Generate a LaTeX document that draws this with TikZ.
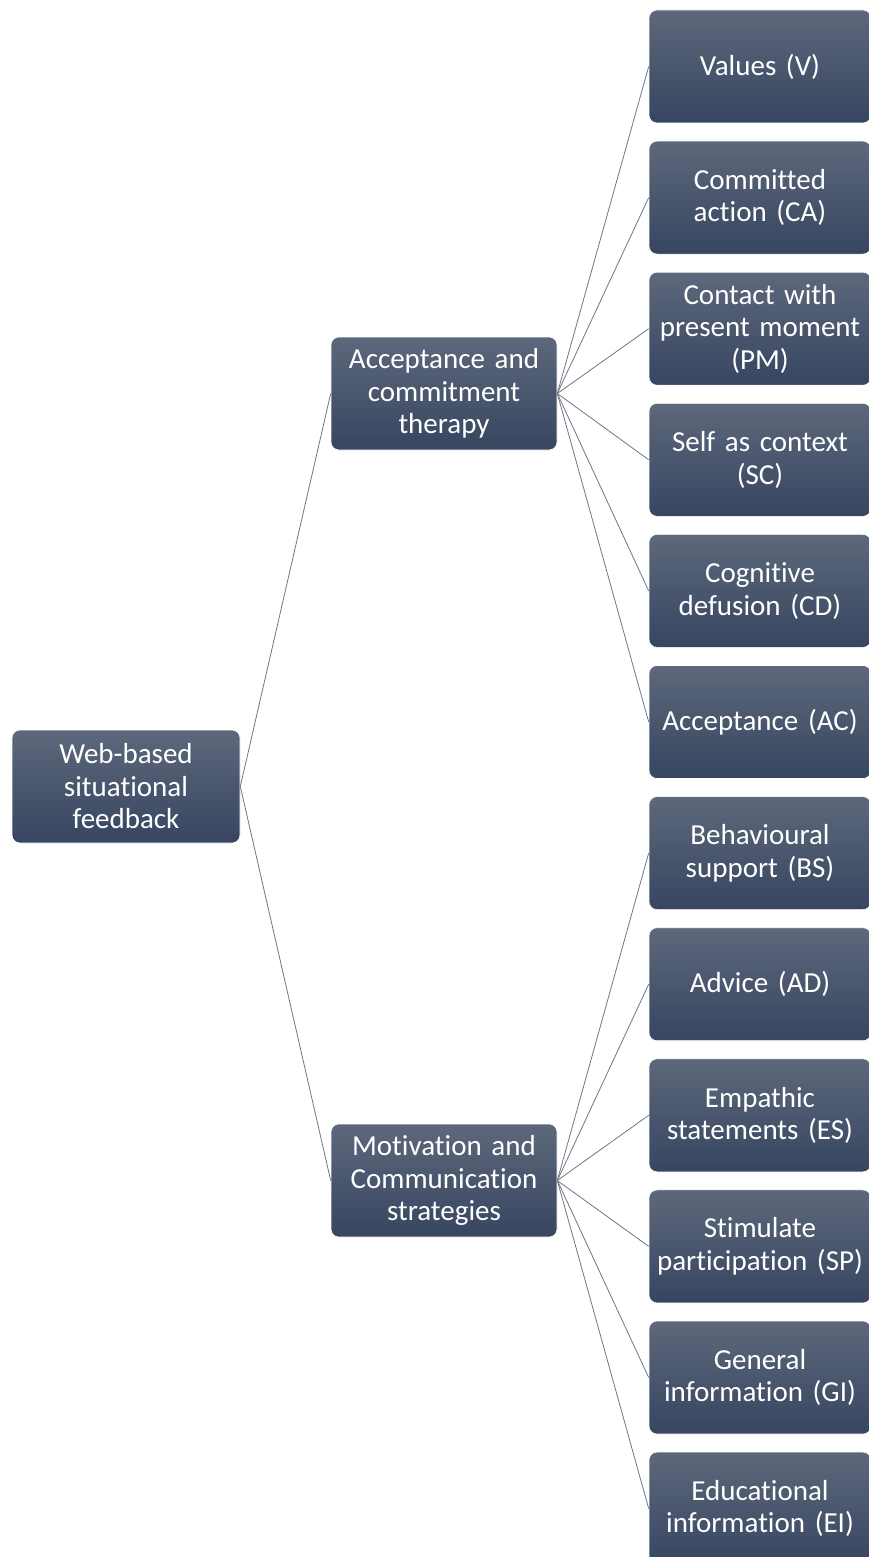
\documentclass[tikz,border=0pt]{standalone}
\usepackage{fontspec}
\setmainfont[Ligatures={NoCommon}]{Carlito}
\begin{document}
\begin{tikzpicture}[x=1pt,y=-1pt,
  box/.style={rounded corners=8pt, top color=boxtop, bottom color=boxbot, draw=white, line width=0.6pt,
    minimum height=113pt, text=white, align=center, font=\fontsize{29}{32.5}\selectfont, inner sep=0pt},
  rbox/.style={box, minimum width=222pt, text width=218pt},
  mbox/.style={box, minimum width=226pt, text width=222pt},
  link/.style={draw=linkc, line width=0.8pt}]
\definecolor{boxtop}{HTML}{5D687B}
\definecolor{boxbot}{HTML}{374560}
\definecolor{linkc}{HTML}{6E7585}
\useasboundingbox (0,0) rectangle (869,1557);
\node[mbox, minimum width=228pt] (root) at (126,786.5) {Web-based\\situational\\feedback};
\node[mbox] (act) at (444,393.5) {Acceptance and\\commitment\\therapy};
\node[mbox] (mcs) at (444,1180.5) {Motivation and\\Communication\\strategies};
\node[rbox] (v)  at (760,66.5)   {Values (V)};
\node[rbox] (ca) at (760,197.6)  {Committed\\action (CA)};
\node[rbox] (pm) at (760,328.7)  {Contact with\\present moment\\(PM)};
\node[rbox] (sc) at (760,459.8)  {Self as context\\(SC)};
\node[rbox] (cd) at (760,590.9)  {Cognitive\\defusion (CD)};
\node[rbox] (ac) at (760,722.0)  {Acceptance (AC)};
\node[rbox] (bs) at (760,853.1)  {Behavioural\\support (BS)};
\node[rbox] (ad) at (760,984.2)  {Advice (AD)};
\node[rbox] (es) at (760,1115.3) {Empathic\\statements (ES)};
\node[rbox] (sp) at (760,1246.4) {Stimulate\\participation (SP)};
\node[rbox] (gi) at (760,1377.5) {General\\information (GI)};
\node[rbox] (ei) at (760,1508.6) {Educational\\information (EI)};
\draw[link] (root.east) -- (act.west);
\draw[link] (root.east) -- (mcs.west);
\foreach \c in {v,ca,pm,sc,cd,ac} \draw[link] (act.east) -- (\c.west);
\foreach \c in {bs,ad,es,sp,gi,ei} \draw[link] (mcs.east) -- (\c.west);
\end{tikzpicture}
\end{document}
